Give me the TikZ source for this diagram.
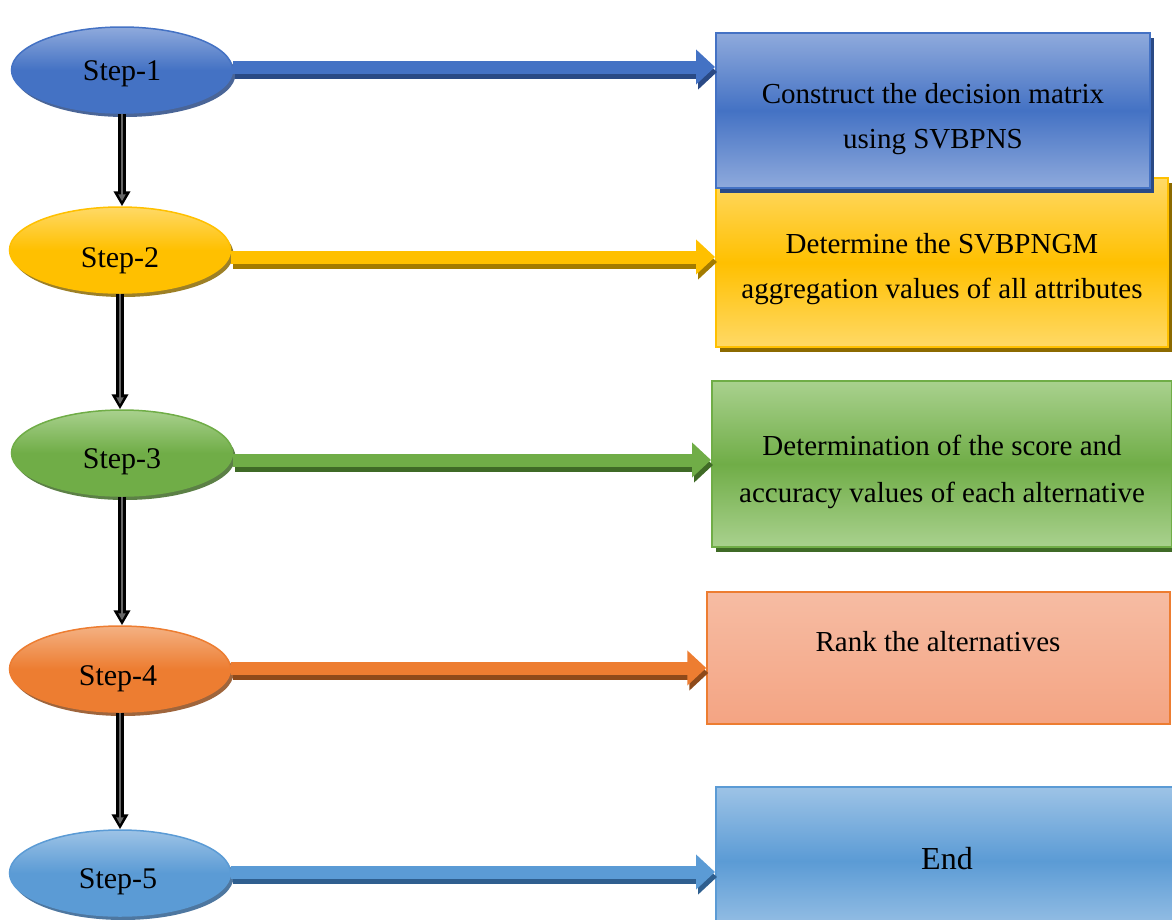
\documentclass[tikz,border=0pt]{standalone}
\usepackage{fontspec}
\setmainfont{Liberation Serif}
\usetikzlibrary{shapes.geometric,arrows.meta,shadows}
\definecolor{blueA}{HTML}{4472C4}
\definecolor{blueL}{HTML}{8FAADC}
\definecolor{blueD}{HTML}{2A4A85}
\definecolor{yelA}{HTML}{FFC000}
\definecolor{yelL}{HTML}{FFD966}
\definecolor{yelD}{HTML}{8C6A00}
\definecolor{grnA}{HTML}{70AD47}
\definecolor{grnL}{HTML}{A9D18E}
\definecolor{grnD}{HTML}{3F6A26}
\definecolor{orgA}{HTML}{ED7D31}
\definecolor{orgL}{HTML}{F4B183}
\definecolor{orgD}{HTML}{8E4A1A}
\definecolor{salT}{HTML}{F6BCA3}
\definecolor{salB}{HTML}{F4A483}
\definecolor{skyA}{HTML}{5B9BD5}
\definecolor{skyL}{HTML}{9DC3E6}
\definecolor{skyD}{HTML}{2F5F8F}
\begin{document}
\begin{tikzpicture}[x=1pt,y=-1pt,
  stepell/.style={ellipse, inner sep=0pt, minimum width=221pt, minimum height=86pt, line width=1.5pt,
    top color=#1L, bottom color=#1A, middle color=#1A, draw=#1A,
    drop shadow={shadow xshift=3pt, shadow yshift=-4pt, fill=#1D, opacity=0.85}},
  box/.style={rectangle, inner sep=0pt, line width=2pt, draw=#1A,
    top color=#1L, bottom color=#1L, middle color=#1A},
  boxsh/.style={drop shadow={shadow xshift=4pt, shadow yshift=-5pt, fill=#1D, opacity=1}},
  steptxt/.style={anchor=base, font=\fontsize{30}{36}\selectfont},
  boxtxt/.style={anchor=base, font=\fontsize{29}{35}\selectfont},
  harrow/.style={line width=13pt, draw=#1, -{Triangle[length=19pt,width=34pt,fill=#1]}},
  harrowsh/.style={line width=13pt, draw=#1, -{Triangle[length=19pt,width=34pt,fill=#1]},
    transform canvas={xshift=2pt,yshift=-5pt}},
  varrowout/.style={line width=8pt, draw=black, -{Triangle[length=15pt,width=16pt,fill=black]}},
  varrowin/.style={line width=2.5pt, draw=gray!80!black, shorten >=5pt, -{Triangle[length=7pt,width=7pt,fill=gray!80!black]}}
]
\useasboundingbox (0,0) rectangle (1172,919);

% boxes
\node[box=yel, boxsh=yel, minimum width=452pt, minimum height=169pt] (b2) at (942,262.5) {};
\node[box=blue, boxsh=blue, minimum width=434pt, minimum height=155pt] (b1) at (933,110.5) {};
\node[box=grn, boxsh=grn, minimum width=460pt, minimum height=166pt] (b3) at (942,464) {};
\node[rectangle, inner sep=0pt, line width=1.5pt, draw=orgA, top color=salT, bottom color=salB,
  minimum width=463pt, minimum height=132pt] (b4) at (938.5,658) {};
\node[box=sky, minimum width=458pt, minimum height=148pt] (b5) at (945,861) {};

% box texts
\node[boxtxt] (t1a) at (933,103) {Construct the decision matrix};
\node[boxtxt] (t1b) at (933,148) {using SVBPNS};
\node[boxtxt] (t2a) at (942,253) {Determine the SVBPNGM};
\node[boxtxt] (t2b) at (942,298) {aggregation values of all attributes};
\node[boxtxt] (t3a) at (942,455) {Determination of the score and};
\node[boxtxt] (t3b) at (942,502) {accuracy values of each alternative};
\node[boxtxt] (t4) at (938,651) {Rank the alternatives};
\node[anchor=base, font=\fontsize{32}{38}\selectfont] (t5) at (947,869) {End};

% ellipses
\node[stepell=blue] (e1) at (122,70) {};
\node[stepell=yel] (e2) at (120,250) {};
\node[stepell=grn] (e3) at (122,453) {};
\node[stepell=org] (e4) at (120,669) {};
\node[stepell=sky] (e5) at (120,873) {};

\node[steptxt] (s1) at (122,80) {Step-1};
\node[steptxt] (s2) at (120,267) {Step-2};
\node[steptxt] (s3) at (122,468) {Step-3};
\node[steptxt] (s4) at (118,685) {Step-4};
\node[steptxt] (s5) at (118,888) {Step-5};

% horizontal arrows
\draw[harrowsh=blueD] ([yshift=3pt]e1.east) -- ([yshift=3pt]e1.east -| b1.west);
\draw[harrow=blueA] ([yshift=3pt]e1.east) -- ([yshift=3pt]e1.east -| b1.west);
\draw[harrowsh=yelD!80!yelA] ([yshift=-7pt]e2.east) -- ([yshift=-7pt]e2.east -| b2.west);
\draw[harrow=yelA] ([yshift=-7pt]e2.east) -- ([yshift=-7pt]e2.east -| b2.west);
\draw[harrowsh=grnD] ([yshift=-7pt]e3.east) -- ([yshift=-7pt]e3.east -| b3.west);
\draw[harrow=grnA] ([yshift=-7pt]e3.east) -- ([yshift=-7pt]e3.east -| b3.west);
\draw[harrowsh=orgD] ([yshift=1pt]e4.east) -- ([yshift=1pt]e4.east -| b4.west);
\draw[harrow=orgA] ([yshift=1pt]e4.east) -- ([yshift=1pt]e4.east -| b4.west);
\draw[harrowsh=skyD] ([yshift=1pt]e5.east) -- ([yshift=1pt]e5.east -| b5.west);
\draw[harrow=skyA] ([yshift=1pt]e5.east) -- ([yshift=1pt]e5.east -| b5.west);

% vertical arrows
\draw[varrowout] (e1.south) -- (e1.south |- e2.north);
\draw[varrowin] (e1.south) -- (e1.south |- e2.north);
\draw[varrowout] (e2.south) -- (e2.south |- e3.north);
\draw[varrowin] (e2.south) -- (e2.south |- e3.north);
\draw[varrowout] (e3.south) -- (e3.south |- e4.north);
\draw[varrowin] (e3.south) -- (e3.south |- e4.north);
\draw[varrowout] (e4.south) -- (e4.south |- e5.north);
\draw[varrowin] (e4.south) -- (e4.south |- e5.north);
\end{tikzpicture}
\end{document}
